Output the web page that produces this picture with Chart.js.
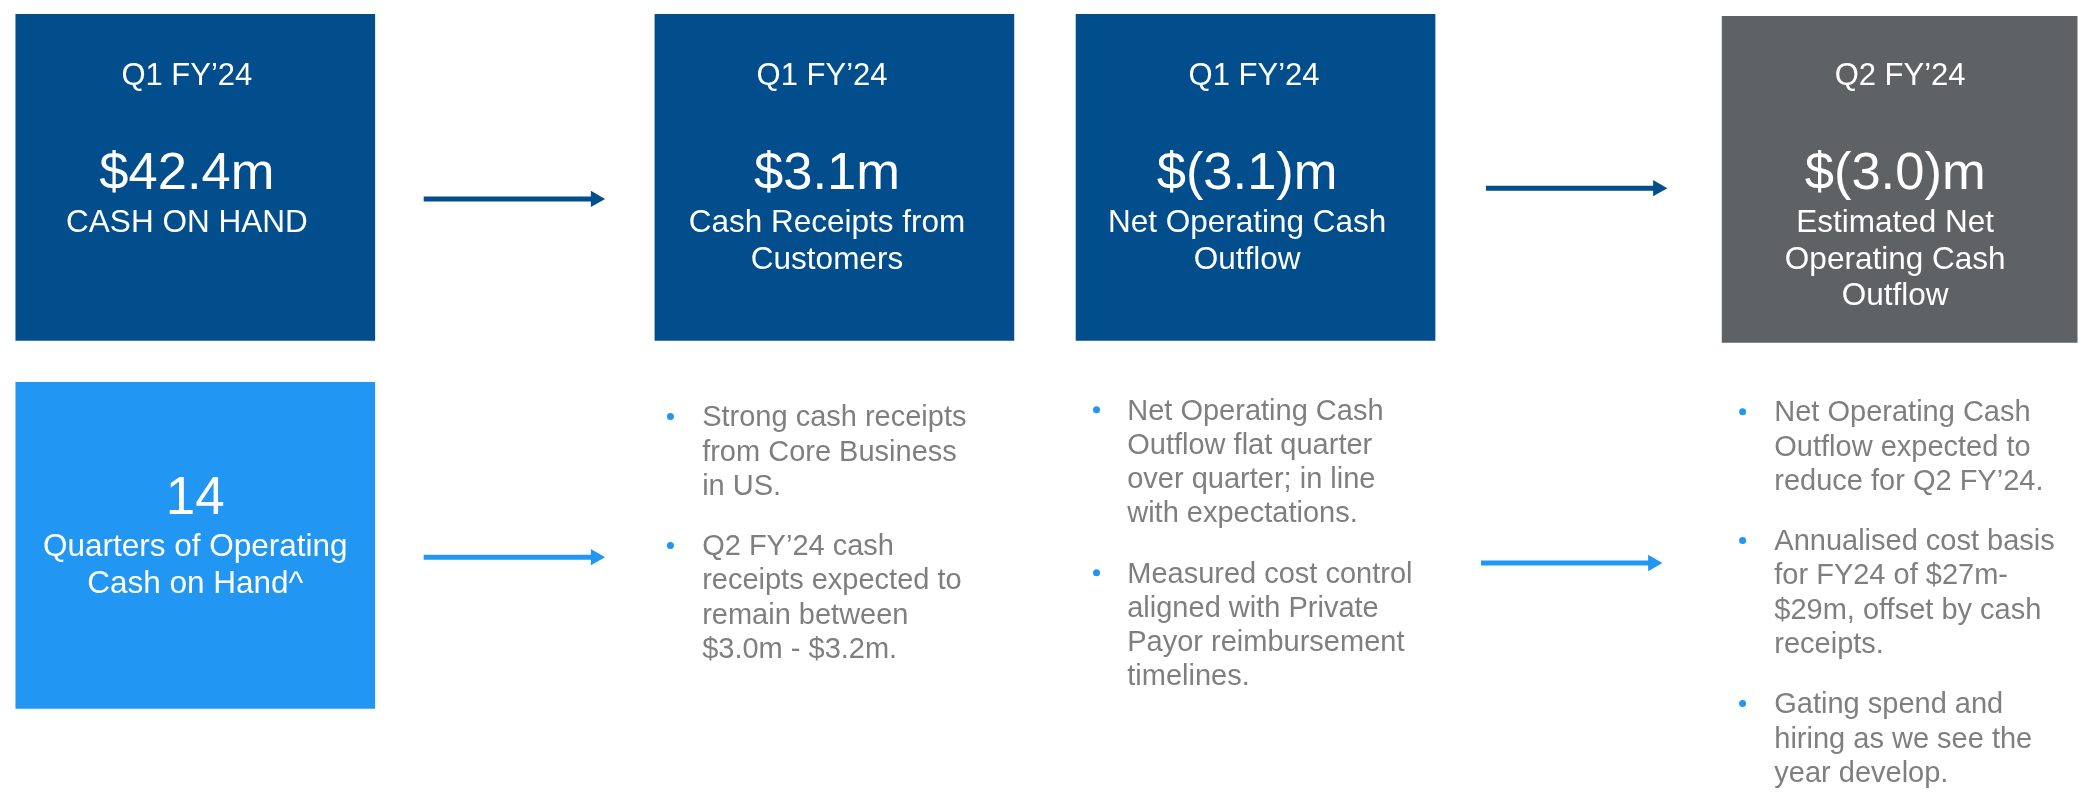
<!DOCTYPE html>
<html lang="en">
<head>
  <meta charset="UTF-8">
  <title>Cash position – Q1 FY’24</title>
  <script src="https://cdn.jsdelivr.net/npm/chart.js"></script>
  <style>
    html, body { margin: 0; padding: 0; background: #fff; overflow: hidden; }
    canvas { display: block; }
  </style>
</head>
<body>
  <canvas id="board" width="2087" height="798"></canvas>

  <script>
    // ---- content ----
    const periods  = ['Q1 FY’24', 'Q1 FY’24', 'Q1 FY’24', 'Q2 FY’24'];
    const amounts  = ['$42.4m', '$3.1m', '$(3.1)m', '$(3.0)m'];
    const captions = [
      ['CASH ON HAND'],
      ['Cash Receipts from', 'Customers'],
      ['Net Operating Cash', 'Outflow'],
      ['Estimated Net', 'Operating Cash', 'Outflow']
    ];
    const runwayValue   = '14';
    const runwayCaption = ['Quarters of Operating', 'Cash on Hand^'];

    const notesReceipts = [
      ['Strong cash receipts', 'from Core Business', 'in US.'],
      ['Q2 FY’24 cash', 'receipts expected to', 'remain between', '$3.0m - $3.2m.']
    ];
    const notesOutflow = [
      ['Net Operating Cash', 'Outflow flat quarter', 'over quarter; in line', 'with expectations.'],
      ['Measured cost control', 'aligned with Private', 'Payor reimbursement', 'timelines.']
    ];
    const notesOutlook = [
      ['Net Operating Cash', 'Outflow expected to', 'reduce for Q2 FY’24.'],
      ['Annualised cost basis', 'for FY24 of $27m-', '$29m, offset by cash', 'receipts.'],
      ['Gating spend and', 'hiring as we see the', 'year develop.']
    ];

    // ---- layout (page pixels, y from top) ----
    const DARK = '#024d8c', LIGHT = '#2196f3', GREY = '#5f6265', NOTE = '#7f7f7f';
    const FONT = '"Liberation Sans", Arial, sans-serif';
    const tileX      = [187.5, 832.5, 1257.5, 1909.5];
    const tileTop    = [5, 5, 5, 7];
    const tileBottom = [339, 339, 339, 341];
    const tileColor  = [DARK, DARK, DARK, GREY];
    const tileWidth  = 359;
    const titleX     = [179, 820, 1256, 1908];   // text frames sit a little left of the tile centre
    const bodyX      = [179, 825, 1249, 1903];
    const runwayBox  = { x: 187.5, top: 382, bottom: 716 };
    const arrows = [
      { from: 418,  to: 601,  y: 194, color: DARK },
      { from: 1490, to: 1673, y: 183, color: DARK },
      { from: 418,  to: 601,  y: 561, color: LIGHT },
      { from: 1485, to: 1668, y: 567, color: LIGHT }
    ];
    const noteCols = [
      { notes: notesReceipts, dot: 667,  text: 699,  y: 427 },
      { notes: notesOutflow,  dot: 1097, text: 1128, y: 420 },
      { notes: notesOutlook,  dot: 1749, text: 1781, y: 422 }
    ];
    const HEAD = 9.5;

    const boxData = tileX.map((x, i) => ({ x: x, y: [tileTop[i], tileBottom[i]] }));
    boxData.push({ x: runwayBox.x, y: [runwayBox.top, runwayBox.bottom] });

    const arrowSets = arrows.map(a => ({
      type: 'line',
      data: [{ x: a.from, y: a.y }, { x: a.to - HEAD, y: a.y }],
      borderColor: a.color,
      borderWidth: 5,
      borderCapStyle: 'butt',
      pointStyle: 'triangle',
      pointRotation: 90,
      pointRadius: [0, HEAD],
      pointBorderWidth: 0,
      pointBackgroundColor: a.color
    }));

    // text drawn at scale positions
    const tileText = {
      id: 'tileText',
      afterDatasetsDraw(chart) {
        const { ctx, scales: { x, y } } = chart;
        ctx.save();
        ctx.textBaseline = 'alphabetic';
        ctx.textAlign = 'center';
        ctx.fillStyle = '#fff';

        tileX.forEach((cx, i) => {
          const tx = x.getPixelForValue(titleX[i]);
          const bx = x.getPixelForValue(bodyX[i]);
          ctx.font = `31px ${FONT}`;
          ctx.fillText(periods[i], tx, y.getPixelForValue(77));
          ctx.font = `52.5px ${FONT}`;
          ctx.fillText(amounts[i], bx, y.getPixelForValue(184));
          ctx.font = `31.5px ${FONT}`;
          captions[i].forEach((line, j) => ctx.fillText(line, bx, y.getPixelForValue(228 + j * 37.5)));
        });

        const rx = x.getPixelForValue(runwayBox.x);
        ctx.font = `53px ${FONT}`;
        ctx.fillText(runwayValue, rx, y.getPixelForValue(517));
        ctx.font = `31.5px ${FONT}`;
        runwayCaption.forEach((line, j) => ctx.fillText(line, rx, y.getPixelForValue(560 + j * 38)));

        ctx.textAlign = 'left';
        ctx.font = `29px ${FONT}`;
        noteCols.forEach(col => {
          let base = col.y;
          col.notes.forEach(lines => {
            ctx.fillStyle = LIGHT;
            ctx.beginPath();
            ctx.arc(x.getPixelForValue(col.dot), y.getPixelForValue(base - 10), 3.5, 0, Math.PI * 2);
            ctx.fill();
            ctx.fillStyle = NOTE;
            lines.forEach((line, j) => ctx.fillText(line, x.getPixelForValue(col.text), y.getPixelForValue(base + j * 35)));
            base += (lines.length - 1) * 35 + 62;
          });
        });
        ctx.restore();
      }
    };

    new Chart(document.getElementById('board'), {
      type: 'bar',
      data: {
        datasets: [
          {
            type: 'bar',
            data: boxData,
            backgroundColor: [...tileColor, LIGHT],
            borderWidth: 0,
            barThickness: tileWidth,
            grouped: false
          },
          ...arrowSets
        ]
      },
      options: {
        responsive: false,
        animation: false,
        events: [],
        layout: { padding: 0 },
        plugins: { legend: { display: false }, tooltip: { enabled: false } },
        scales: {
          x: { type: 'linear', min: 0, max: 2087, offset: false, display: false },
          y: { type: 'linear', min: 0, max: 798, reverse: true, display: false }
        }
      },
      plugins: [tileText]
    });
  </script>
</body>
</html>
